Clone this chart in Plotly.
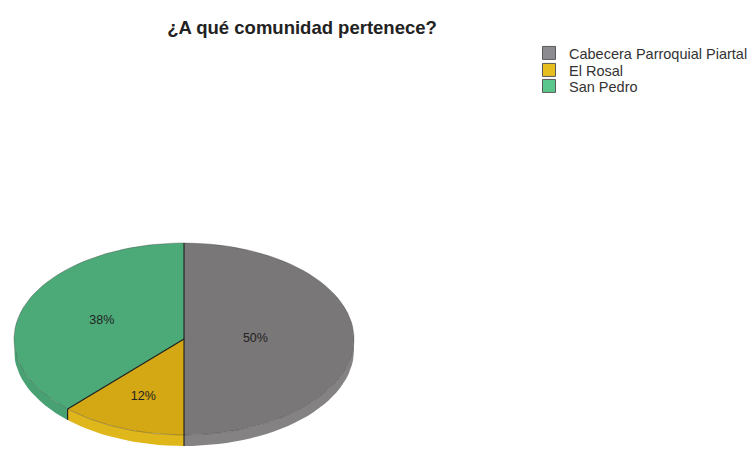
import numpy as np
import plotly.graph_objects as go

# Survey answers: "¿A qué comunidad pertenece?"
categories = ["Cabecera Parroquial Piartal", "El Rosal", "San Pedro"]
shares = [50, 12, 38]  # percent of respondents

# Styling
top_colors = ["#797777", "#d3a814", "#4caa78"]
side_colors = ["#848283", "#e0b71b", "#47a172"]
legend_colors = ["#8c8c90", "#e6be1e", "#5cc78c"]
label_radius = [0.42, 0.65, 0.52]

W, H = 754, 449
CX, CY, RX, RY, DEPTH = 184, 339, 170, 96, 11


def pt(theta, r=1.0, dy=0.0):
    """Point on the tilted pie: theta in degrees, clockwise from 12 o'clock."""
    t = np.radians(theta)
    return CX + r * RX * np.sin(t), CY - r * RY * np.cos(t) + dy


def arc(a0, a1, dy=0.0, n=120):
    th = np.linspace(a0, a1, max(2, int(n * (a1 - a0) / 360) + 2))
    x, y = pt(th, 1.0, dy)
    return list(x), list(y)


total = sum(shares)
bounds = np.concatenate([[0], np.cumsum(shares) / total * 360])

fig = go.Figure()

# Side walls (only the front half of the disc is visible)
for i, cat in enumerate(categories):
    a0, a1 = max(bounds[i], 90), min(bounds[i + 1], 270)
    if a1 <= a0:
        continue
    xt, yt = arc(a0, a1)
    xb, yb = arc(a0, a1, DEPTH)
    fig.add_trace(go.Scatter(
        x=xt + xb[::-1] + [xt[0]], y=yt + yb[::-1] + [yt[0]],
        mode="lines", fill="toself", fillcolor=side_colors[i],
        line=dict(width=0), hoverinfo="skip", showlegend=False))

# Top faces of the slices
for i, cat in enumerate(categories):
    xa, ya = arc(bounds[i], bounds[i + 1])
    fig.add_trace(go.Scatter(
        x=[CX] + xa + [CX], y=[CY] + ya + [CY],
        mode="lines", fill="toself", fillcolor=top_colors[i],
        line=dict(width=0), name=cat, hoverinfo="name", showlegend=False))

# Rim of the top face
xr, yr = arc(0, 360, n=360)
fig.add_trace(go.Scatter(x=xr, y=yr, mode="lines",
                         line=dict(color="rgba(60,60,60,0.45)", width=0.8),
                         hoverinfo="skip", showlegend=False))

# Slice borders: radial edges and vertical edges on the side wall
ex, ey = [], []
for a in bounds[:-1]:
    x1, y1 = pt(a)
    ex += [CX, x1, None]
    ey += [CY, y1, None]
    if 90 <= a <= 270:
        x2, y2 = pt(a, 1.0, DEPTH)
        ex += [x1, x2, None]
        ey += [y1, y2, None]
fig.add_trace(go.Scatter(x=ex, y=ey, mode="lines",
                         line=dict(color="#1c1c1c", width=1.1),
                         hoverinfo="skip", showlegend=False))

# Percentage labels
lx, ly = [], []
for i in range(len(categories)):
    mid = (bounds[i] + bounds[i + 1]) / 2
    x, y = pt(mid, label_radius[i])
    lx.append(x)
    ly.append(y)
fig.add_trace(go.Scatter(
    x=lx, y=ly, mode="text", text=[f"{s}%" for s in shares],
    textfont=dict(family="Liberation Sans, Arial, sans-serif", size=12.5, color="#222222"),
    hoverinfo="skip", showlegend=False))

# Legend entries, one legend box per row
legend_names = ["legend", "legend2", "legend3"]
for i, cat in enumerate(categories):
    fig.add_trace(go.Scatter(
        x=[None], y=[None], mode="markers", name=cat,
        marker=dict(symbol="square", size=13, color=legend_colors[i],
                    line=dict(color="#5a5a5a", width=1)),
        legend=legend_names[i]))

legend_rows = [53, 70, 86]
legend_font = dict(family="Liberation Sans, Arial, sans-serif", size=14.5, color="#333333")
layout_legends = {}
for name, row in zip(legend_names, legend_rows):
    layout_legends[name] = dict(
        x=529 / W, y=1 - row / H, xanchor="left", yanchor="middle",
        font=legend_font, bgcolor="rgba(0,0,0,0)", borderwidth=0)

fig.update_layout(
    width=W, height=H,
    margin=dict(l=0, r=0, t=0, b=0),
    paper_bgcolor="white", plot_bgcolor="white",
    title=dict(text="<b>¿A qué comunidad pertenece?</b>",
               x=302 / W, xanchor="center", y=1 - 28 / H, yanchor="middle",
               font=dict(family="Liberation Sans, Arial, sans-serif", size=18.5, color="#222222")),
    xaxis=dict(range=[0, W], visible=False, fixedrange=True),
    yaxis=dict(range=[H, 0], visible=False, fixedrange=True),
    **layout_legends,
)

fig.write_html("out.html")
